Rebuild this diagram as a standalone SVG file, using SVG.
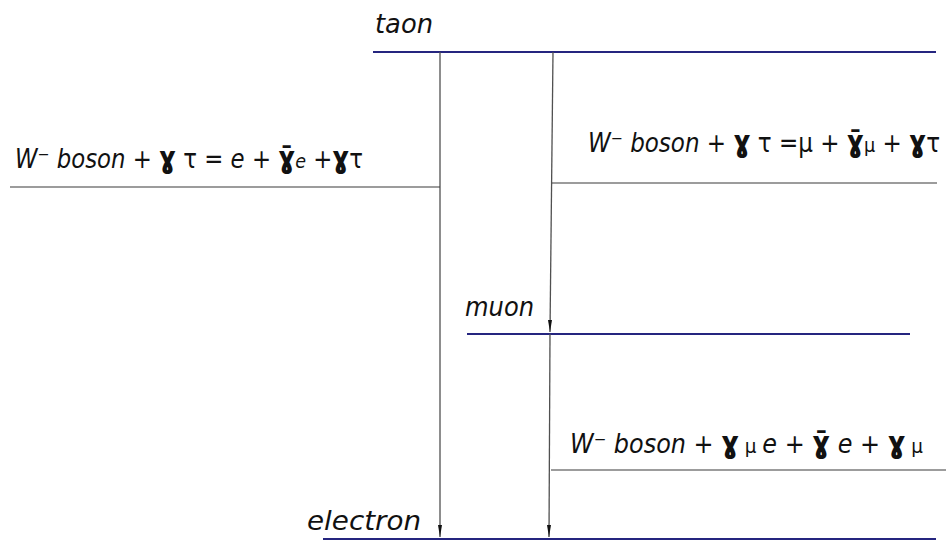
<svg xmlns="http://www.w3.org/2000/svg" width="946" height="541" viewBox="0 0 946 541">
<defs>
<style>
.lvl{stroke:#25257f;stroke-width:2;fill:none}
.hl{stroke:#3a3a3a;stroke-width:1.2;fill:none}
.vl{stroke:#505050;stroke-width:1.3;fill:none}
.lab{font-family:"DejaVu Sans",sans-serif;font-stretch:condensed;font-style:italic;font-size:27px;fill:#111}
.eq{font-family:"DejaVu Sans",sans-serif;font-stretch:condensed;font-style:italic;font-size:26px;fill:#111}
.g{font-style:normal;font-weight:bold;font-size:30px}
.sub{font-size:20px}
.up{font-style:normal}
</style>
<marker id="ad" viewBox="0 0 4 12" refX="2" refY="12" markerWidth="4" markerHeight="12" markerUnits="userSpaceOnUse" orient="0">
<path d="M0,0 L4,0 L2,12 Z" fill="#111"/>
</marker>
</defs>
<rect width="946" height="541" fill="#fff"/>

<g id="taon">
<line class="lvl" x1="373" y1="52" x2="936" y2="52"/>
<text class="lab" x="375" y="33" textLength="58" lengthAdjust="spacingAndGlyphs">taon</text>
</g>
<g id="muon">
<line class="lvl" x1="467" y1="334" x2="910" y2="334"/>
<text class="lab" x="465" y="316" textLength="69" lengthAdjust="spacingAndGlyphs">muon</text>
</g>
<g id="electron">
<line class="lvl" x1="323" y1="539" x2="936" y2="539"/>
<text class="lab" x="307" y="530" textLength="114" lengthAdjust="spacingAndGlyphs">electron</text>
</g>

<g id="connectors">
<line class="vl" x1="440" y1="52" x2="440" y2="537" marker-end="url(#ad)"/>
<line class="vl" x1="553" y1="52" x2="550" y2="332" marker-end="url(#ad)"/>
<line class="vl" x1="550" y1="334" x2="549" y2="537" marker-end="url(#ad)"/>
<line class="hl" x1="10" y1="187" x2="440" y2="187"/>
<line class="hl" x1="552" y1="183" x2="937" y2="183"/>
<line class="hl" x1="551" y1="470" x2="946" y2="470"/>
</g>

<g id="decay-tau-e">
<text class="eq" x="15" y="168" textLength="348" lengthAdjust="spacingAndGlyphs">W⁻ boson + <tspan class="g">ɣ</tspan> <tspan class="up">τ</tspan> =  e + <tspan class="g">ɣ̄</tspan><tspan class="sub">e</tspan> +<tspan class="g">ɣ</tspan><tspan class="up">τ</tspan></text>
</g>
<g id="decay-tau-mu">
<text class="eq" x="588" y="152" textLength="352" lengthAdjust="spacingAndGlyphs">W⁻ boson + <tspan class="g">ɣ</tspan> <tspan class="up">τ</tspan> =<tspan class="up">μ</tspan>  + <tspan class="g">ɣ̄</tspan><tspan class="sub up">μ</tspan> + <tspan class="g">ɣ</tspan><tspan class="up">τ</tspan></text>
</g>
<g id="decay-mu-e">
<text class="eq" x="570" y="453" textLength="353" lengthAdjust="spacingAndGlyphs">W⁻ boson + <tspan class="g">ɣ</tspan><tspan class="sub up"> μ </tspan> e + <tspan class="g">ɣ̄</tspan> e + <tspan class="g">ɣ</tspan><tspan class="sub up"> μ</tspan></text>
</g>
</svg>
